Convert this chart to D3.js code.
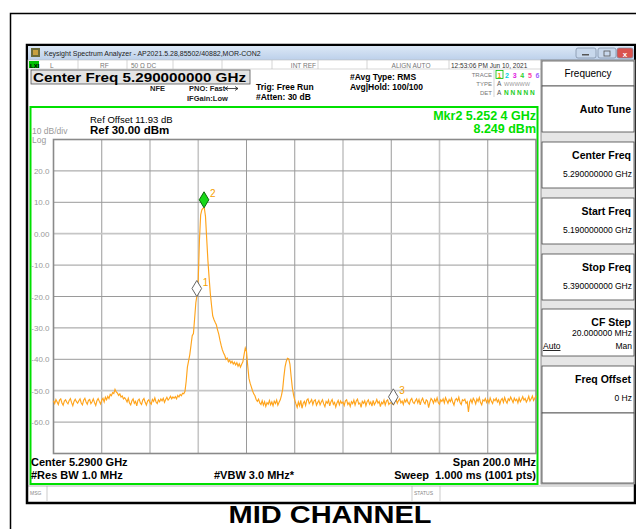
<!DOCTYPE html>
<html><head><meta charset="utf-8">
<script src="https://cdn.jsdelivr.net/npm/d3@7"></script>
<style>
html,body{margin:0;padding:0;background:#fff;overflow:hidden}
svg{display:block}
text{font-family:"Liberation Sans",Arial,sans-serif}
</style>
</head><body>
<svg id="c" width="636" height="529"></svg>
<script>
// ---------------- DATA ----------------
const startFreqMHz = 5190, stopFreqMHz = 5390, freqStepMHz = 0.5;
const traceDbm = [
-53.2,-54.1,-52.8,-53.6,-54.4,-53.0,-52.6,-53.9,-54.6,-53.3,-52.9,-53.7,-54.2,-53.1,-52.5,-53.8,-54.8,-53.4,-52.7,-53.5,
-54.0,-53.2,-52.6,-53.9,-54.5,-53.0,-52.4,-53.6,-54.3,-53.1,-52.8,-54.1,-53.5,-52.6,-53.8,-54.7,-53.2,-52.5,-53.4,-54.2,
-53.0,-52.4,-53.6,-52.1,-52.9,-51.8,-52.5,-51.2,-51.6,-50.6,-50.9,-49.6,-50.4,-50.8,-51.5,-51.0,-52.0,-51.7,-52.6,-52.2,
-52.8,-53.6,-52.4,-53.9,-54.5,-53.2,-52.6,-54.0,-53.4,-54.8,-53.1,-52.7,-53.9,-54.4,-53.0,-52.5,-53.7,-54.6,-53.3,-52.9,
-53.8,-54.3,-52.8,-53.4,-52.3,-53.6,-54.1,-52.9,-53.5,-52.6,-53.2,-52.4,-53.7,-52.8,-52.1,-53.0,-52.5,-51.8,-52.6,-52.0,
-52.4,-51.9,-52.6,-51.5,-52.0,-51.2,-51.6,-50.8,-51.0,-50.2,-47.0,-42.5,-40.5,-38.5,-35.5,-32.5,-31.8,-27.0,-22.0,-19.5,
-14.5,-2.0,6.0,7.6,8.1,8.25,5.5,-1.5,-8.5,-14.0,-19.0,-22.8,-26.2,-27.3,-28.2,-29.0,-30.6,-32.0,-33.9,-35.6,
-37.0,-38.0,-38.8,-40.0,-39.6,-40.8,-40.3,-41.2,-40.6,-41.5,-40.9,-41.8,-41.1,-42.2,-41.4,-42.5,-41.6,-40.8,-38.5,-36.4,
-37.5,-42.0,-46.0,-47.6,-48.8,-50.0,-51.0,-51.6,-52.8,-53.4,-52.7,-53.9,-54.4,-53.2,-54.6,-53.5,-55.0,-53.8,-54.3,-53.1,
-54.5,-53.6,-54.8,-53.3,-54.1,-53.0,-54.6,-53.7,-52.9,-51.5,-49.5,-45.5,-42.3,-40.6,-39.7,-39.9,-41.5,-45.5,-49.0,-51.3,
-53.0,-54.2,-55.3,-53.6,-54.8,-53.1,-55.6,-54.0,-53.4,-54.7,-53.0,-52.6,-54.1,-53.5,-52.8,-54.4,-53.2,-52.9,-54.6,-53.8,
-53.1,-54.5,-53.6,-52.9,-54.2,-55.1,-53.4,-54.0,-53.0,-54.8,-53.5,-52.8,-54.3,-53.7,-55.2,-53.9,-53.1,-54.5,-53.3,-54.0,
-53.6,-54.7,-53.2,-52.9,-54.4,-53.8,-55.0,-53.5,-54.1,-53.0,-54.6,-53.3,-52.7,-54.2,-53.9,-55.3,-53.4,-54.0,-53.2,-54.8,
-53.5,-52.9,-54.3,-53.6,-54.9,-53.1,-54.5,-53.8,-52.8,-54.0,-53.4,-55.1,-53.7,-54.2,-53.0,-54.6,-53.3,-52.9,-54.4,-53.9,
-53.8,-54.2,-54.5,-53.2,-52.8,-54.0,-53.1,-52.6,-53.9,-53.3,-54.4,-52.9,-53.6,-52.7,-53.8,-54.3,-53.0,-52.5,-53.7,-54.1,
-53.2,-52.6,-53.9,-52.8,-54.5,-53.1,-52.4,-53.6,-54.2,-52.9,-53.3,-55.4,-53.7,-52.5,-53.0,-54.0,-52.7,-53.5,-52.3,-53.8,
-54.3,-52.9,-53.4,-52.6,-53.9,-52.2,-53.1,-54.0,-52.8,-53.5,-52.4,-53.7,-54.6,-53.0,-52.5,-53.3,-52.1,-53.8,-54.4,-52.9,
-53.2,-52.7,-54.0,-53.5,-56.8,-53.6,-52.8,-53.9,-52.4,-53.1,-54.2,-52.6,-53.4,-52.2,-53.8,-54.5,-52.9,-53.3,-52.5,-53.7,
-52.8,-53.9,-52.3,-53.4,-54.1,-52.7,-53.2,-52.4,-53.6,-52.9,-54.3,-53.0,-52.5,-53.7,-52.2,-53.3,-54.0,-52.6,-53.1,-52.0,
-52.9,-53.8,-52.4,-53.2,-52.7,-53.9,-52.3,-53.5,-52.8,-51.9,-53.0,-52.5,-53.6,-52.9,-51.8,-53.3,-52.6,-51.7,-53.1,-52.4,
-51.6
];
const refLevelDbm = 30, bottomDbm = -70;
const yGridValues = [30,20,10,0,-10,-20,-30,-40,-50,-60,-70];
const yTickValues = [20,10,0,-10,-20,-30,-40,-50,-60];
const yTickLabels = ["20.0","10.0","0.00","-10.0","-20.0","-30.0","-40.0","-50.0","-60.0"];
const xGridValues = [5190,5210,5230,5250,5270,5290,5310,5330,5350,5370,5390];
const markerIds = ["1","2","3"];
const markerFreqMHz = [5249.4, 5252.4, 5330.85];
const markerDbm = [-20.0, 8.249, -54.5];
const softkeyTitles = ["Auto Tune","Center Freq","Start Freq","Stop Freq","CF Step","Freq Offset"];
const softkeyValues = ["","5.290000000 GHz","5.190000000 GHz","5.390000000 GHz","20.000000 MHz","0 Hz"];

// ---------------- DRAW ----------------
const svg = d3.select("#c");
const F = '"Liberation Sans",Arial,sans-serif';
function txt(x,y,s,o={}) {
  const t = svg.append("text").attr("x",x).attr("y",y).text(s)
    .attr("font-size",o.size||10).attr("fill",o.fill||"#000")
    .attr("font-weight",o.bold?"bold":"normal")
    .attr("text-anchor",o.anchor||"start");
  if (o.tl) t.attr("textLength",o.tl).attr("lengthAdjust","spacingAndGlyphs");
  return t;
}

// outer frame
svg.append("path").attr("d","M10.5,529 V13.5 H636").attr("fill","none").attr("stroke","#000").attr("stroke-width",1.5);

// window
svg.append("rect").attr("x",27).attr("y",45).attr("width",608).attr("height",458).attr("fill","#fff").attr("stroke","#000").attr("stroke-width",2.5);
const tg = svg.append("defs").append("linearGradient").attr("id","tb").attr("x1",0).attr("y1",0).attr("x2",0).attr("y2",1);
tg.append("stop").attr("offset","0").attr("stop-color","#dce8f6");
tg.append("stop").attr("offset","1").attr("stop-color","#bcd0ea");
svg.append("rect").attr("x",28).attr("y",46).attr("width",606).attr("height",14).attr("fill","url(#tb)");
svg.append("rect").attr("x",31).attr("y",48).attr("width",9).attr("height",9).attr("fill","#6b6b3a");
svg.append("rect").attr("x",33).attr("y",50).attr("width",5).attr("height",5).attr("fill","#c8a040");
txt(44,56,"Keysight Spectrum Analyzer - AP2021.5.28,85502/40882,MOR-CON2",{size:7,fill:"#222"});
// window buttons
[[576,20,"#c8d8ec"],[598,18,"#c8d8ec"],[617,16,"#d9534f"]].forEach(b=>{
  svg.append("rect").attr("x",b[0]).attr("y",48).attr("width",b[1]).attr("height",10).attr("rx",2).attr("fill",b[2]).attr("stroke","#7a8aa0").attr("stroke-width",0.7);
});
svg.append("rect").attr("x",582).attr("y",54).attr("width",7).attr("height",1.5).attr("fill","#555");
svg.append("rect").attr("x",604).attr("y",51).attr("width",6).attr("height",5).attr("fill","none").attr("stroke","#555").attr("stroke-width",0.8);
txt(625,56.5,"x",{size:8,fill:"#fff",anchor:"middle",bold:true});

// status row
svg.append("rect").attr("x",28).attr("y",60).attr("width",514).attr("height",9).attr("fill","#fff").attr("stroke","#bbb").attr("stroke-width",0.6);
[78,127,173,222,272,318,367,449].forEach(x=>svg.append("line").attr("x1",x).attr("x2",x).attr("y1",60).attr("y2",69).attr("stroke","#bbb").attr("stroke-width",0.6));
svg.append("rect").attr("x",29).attr("y",61).attr("width",10).attr("height",7).attr("fill","#00c000");
txt(30,67.5,"LXI",{size:6,bold:true});
txt(50,67.5,"L",{size:6.5,fill:"#777"});
txt(100,67.5,"RF",{size:6.5,fill:"#777"});
txt(131,67.5,"50 Ω   DC",{size:6.5,fill:"#777"});
txt(316,67.5,"INT REF",{size:6.5,fill:"#777",anchor:"end"});
txt(411,67.5,"ALIGN AUTO",{size:6.5,fill:"#777",anchor:"middle"});
txt(451,67.5,"12:53:06 PM Jun 10, 2021",{size:6.5,fill:"#333"});

// center freq box
svg.append("rect").attr("x",31).attr("y",70).attr("width",219).attr("height",14).attr("fill","#e4e4e4").attr("stroke","#555").attr("stroke-width",0.8);
txt(33,82,"Center Freq 5.290000000 GHz",{size:13,bold:true,tl:213});
txt(150,91,"NFE",{size:7.5,bold:true,fill:"#222"});
txt(189,91,"PNO: Fast",{size:7.5,bold:true,fill:"#222"});
svg.append("path").attr("d","M225,88.5 H238 M228,86.5 L225,88.5 L228,90.5 M235,86.5 L238,88.5 L235,90.5").attr("stroke","#222").attr("fill","none").attr("stroke-width",0.8);
txt(187,101,"IFGain:Low",{size:7.5,bold:true,fill:"#222"});
txt(256,90,"Trig: Free Run",{size:8.5,bold:true});
txt(256,100,"#Atten: 30 dB",{size:8.5,bold:true});
txt(350,80,"#Avg Type: RMS",{size:8.5,bold:true});
txt(350,90,"Avg|Hold: 100/100",{size:8.5,bold:true});
// trace block
txt(492,77,"TRACE",{size:6,fill:"#777",anchor:"end"});
txt(492,86,"TYPE",{size:6,fill:"#777",anchor:"end"});
txt(492,95,"DET",{size:6,fill:"#777",anchor:"end"});
svg.append("line").attr("x1",494).attr("x2",494).attr("y1",70).attr("y2",97).attr("stroke","#bbb").attr("stroke-width",0.6);
svg.append("rect").attr("x",496).attr("y",70.5).attr("width",7).attr("height",8).attr("fill","none").attr("stroke","#00c000").attr("stroke-width",0.8);
const trCols = ["#f5a000","#00d0e0","#e020e0","#30d030","#ff40a0","#a060ff"];
trCols.forEach((c,i)=>txt(497.5+i*7.6,77.5,String(i+1),{size:7,fill:c,bold:true}));
txt(497,86,"A",{size:6.5,fill:"#555"});
txt(504,86,"WWWWW",{size:5.5,fill:"#999"});
txt(497,95,"A",{size:6.5,fill:"#555"});
txt(504,95,"N N N N N",{size:6.5,fill:"#2c2",bold:true});

// softkey panel
svg.append("rect").attr("x",541).attr("y",60).attr("width",94).attr("height",424).attr("fill","#e6e6e6").attr("stroke","#777").attr("stroke-width",0.8);
svg.append("rect").attr("x",542).attr("y",61).attr("width",92).attr("height",25).attr("fill","#fff").attr("stroke","#555").attr("stroke-width",0.8);
txt(588,77,"Frequency",{size:10,anchor:"middle"});
const keyTops = [86,142,198,254,309,366];
const keyH = [46,46,46,46,47,47];
keyTops.forEach((t,i)=>{
  svg.append("rect").attr("x",542).attr("y",t).attr("width",92).attr("height",keyH[i]).attr("fill","#fff").attr("stroke","#444").attr("stroke-width",0.8);
});
svg.append("rect").attr("x",542).attr("y",413).attr("width",92).attr("height",70).attr("fill","#fff").attr("stroke","#444").attr("stroke-width",0.8);
softkeyTitles.forEach((s,i)=>{
  const t = keyTops[i];
  txt(631, i===0 ? t+27 : t+17, s, {size:10.5,bold:true,anchor:"end"});
  if (softkeyValues[i]) txt(632, i===4 ? t+27 : t+35, softkeyValues[i], {size:8.5,anchor:"end"});
});
txt(543,349,"Auto",{size:8.5}).attr("text-decoration","underline");
txt(632,349,"Man",{size:8.5,anchor:"end"});

// MSG row
svg.append("line").attr("x1",28).attr("x2",634).attr("y1",486).attr("y2",486).attr("stroke","#888").attr("stroke-width",0.6);
[47,412,440].forEach(x=>svg.append("line").attr("x1",x).attr("x2",x).attr("y1",486).attr("y2",501).attr("stroke","#aaa").attr("stroke-width",0.6));
txt(30,495,"MSG",{size:5,fill:"#888"});
txt(414,495,"STATUS",{size:5,fill:"#888"});

// green panel
svg.append("rect").attr("x",30.5).attr("y",107).attr("width",507).attr("height",377).attr("fill","#fff").attr("stroke","#00e000").attr("stroke-width",2);

// plot scales
const x = d3.scaleLinear().domain([startFreqMHz, stopFreqMHz]).range([53.5, 536]);
const y = d3.scaleLinear().domain([bottomDbm, refLevelDbm]).range([453.5, 139.5]);

// grid
const lightV = new Set([5230,5250,5310,5350]);
const lightH = new Set([0,-50]);
const g = svg.append("g");
g.selectAll(".vg").data(xGridValues.slice(1,-1)).join("line")
  .attr("x1",d=>x(d)).attr("x2",d=>x(d)).attr("y1",y(refLevelDbm)).attr("y2",y(bottomDbm))
  .attr("stroke",d=>lightV.has(d)?"#c6c6c6":"#9a9a9a").attr("stroke-width",d=>lightV.has(d)?1.6:1);
g.selectAll(".hg").data(yGridValues.slice(1,-1)).join("line")
  .attr("x1",x(startFreqMHz)).attr("x2",x(stopFreqMHz)).attr("y1",d=>y(d)).attr("y2",d=>y(d))
  .attr("stroke",d=>lightH.has(d)?"#c6c6c6":"#9a9a9a").attr("stroke-width",d=>lightH.has(d)?1.8:1);
g.append("rect").attr("x",x(startFreqMHz)).attr("y",y(refLevelDbm)).attr("width",x(stopFreqMHz)-x(startFreqMHz)).attr("height",y(bottomDbm)-y(refLevelDbm))
  .attr("fill","none").attr("stroke","#8a8a8a").attr("stroke-width",1.6);

// y axis labels
const ax = d3.axisLeft(y).tickValues(yTickValues).tickSize(0).tickPadding(4)
  .tickFormat(d=>yTickLabels[yTickValues.indexOf(d)]);
const axg = svg.append("g").attr("transform",`translate(${x(startFreqMHz)},0)`).call(ax);
axg.select(".domain").remove();
axg.selectAll("text").attr("font-size",8).attr("fill","#9a9a9a").attr("font-family",F);

// header texts
txt(32,134,"10 dB/div",{size:8.5,fill:"#9a9a9a"});
txt(32,143,"Log",{size:8.5,fill:"#9a9a9a"});
txt(90,123,"Ref Offset 11.93 dB",{size:9.5});
txt(90,134,"Ref 30.00 dBm",{size:11.5,bold:true});
txt(536,120,"Mkr2 5.252 4 GHz",{size:12.5,bold:true,fill:"#00e000",anchor:"end"});
txt(536,133,"8.249 dBm",{size:12.5,bold:true,fill:"#00e000",anchor:"end"});

// trace
const traceData = traceDbm.map((v,i)=>({f:startFreqMHz + i*freqStepMHz, v}));
svg.append("path").datum(traceData)
  .attr("d", d3.line().x(d=>x(d.f)).y(d=>y(d.v)))
  .attr("fill","none").attr("stroke","#ffa41c").attr("stroke-width",1.15);

// markers
markerIds.forEach((id,i)=>{
  const mx = x(markerFreqMHz[i]), my = y(markerDbm[i]);
  const w = 4.8, h = 16;
  svg.append("path").attr("d",`M${mx},${my} L${mx-w},${my-h/2} L${mx},${my-h} L${mx+w},${my-h/2} Z`)
    .attr("fill", id==="2" ? "#18d818" : "#fff")
    .attr("stroke", id==="2" ? "#0a6a0a" : "#666").attr("stroke-width",1);
  txt(mx+6, my-h+5, id, {size:10,fill:"#f5a000"});
});

// bottom texts
txt(31,466,"Center 5.2900 GHz",{size:11,bold:true});
txt(536,466,"Span 200.0 MHz",{size:11,bold:true,anchor:"end"});
txt(31,479,"#Res BW 1.0 MHz",{size:11,bold:true});
txt(214,479,"#VBW 3.0 MHz*",{size:11,bold:true});
txt(536,479,"Sweep  1.000 ms (1001 pts)",{size:11,bold:true,anchor:"end"}).attr("xml:space","preserve");

// caption
txt(330,523,"MID CHANNEL",{size:24,bold:true,anchor:"middle",tl:203});
</script>
</body></html>
